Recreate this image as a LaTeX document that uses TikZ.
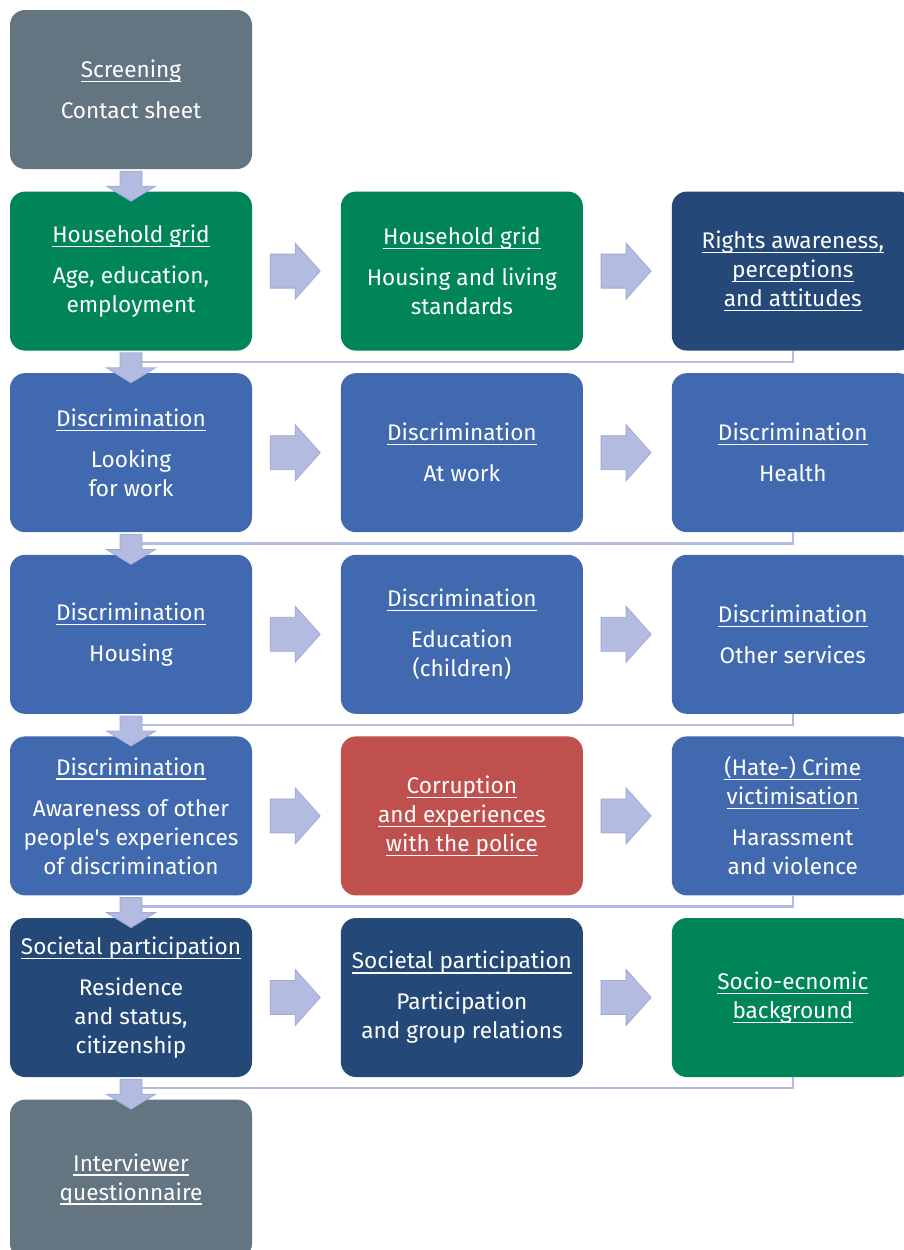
\documentclass[tikz,border=0pt]{standalone}
\usepackage{fontspec}
\setmainfont{Fira Sans}[Ligatures=TeXOff]
\usetikzlibrary{positioning}

\definecolor{stagegray}{HTML}{637581}
\definecolor{stagegreen}{HTML}{00845A}
\definecolor{stagenavy}{HTML}{244877}
\definecolor{stageblue}{HTML}{4169AF}
\definecolor{stagered}{HTML}{C0504D}
\definecolor{flowfill}{HTML}{B3BCE0}
\definecolor{flowedge}{HTML}{9FAAD7}

% underlined heading line
\newcommand{\ulbl}[1]{\leavevmode\setbox0\hbox{#1}\rlap{\rule[-4.6pt]{\wd0}{1.3pt}}\box0}

\tikzset{
  stage/.style={rectangle, rounded corners=15pt, minimum width=242pt, minimum height=159pt,
    inner sep=0pt, align=center, text=white, font=\fontsize{22.6}{29}\selectfont},
  flow/.style={fill=flowfill, draw=flowedge, line width=0.8pt},
  link/.style={draw=flowfill, line width=2.4pt},
  downflow/.pic={\filldraw[flow] (-11pt,-2pt) -- (11pt,-2pt) -- (11pt,-17pt) -- (24.5pt,-17pt)
    -- (0pt,-32pt) -- (-24.5pt,-17pt) -- (-11pt,-17pt) -- cycle;},
  rightflow/.pic={\filldraw[flow] (18pt,17pt) -- (43pt,17pt) -- (43pt,28pt) -- (68pt,0pt)
    -- (43pt,-28pt) -- (43pt,-17pt) -- (18pt,-17pt) -- cycle;}
}

\begin{document}
\begin{tikzpicture}[x=1pt,y=1pt, node distance=22.2pt and 88.5pt]
    \useasboundingbox (0,0) rectangle (903,-1250);

    % Boxes
    \node[stage, fill=stagegray] (scr) at (131,-89.5) {\ulbl{Screening}\\[12pt]Contact sheet};

    \node[stage, fill=stagegreen, below=of scr] (hh1) {\ulbl{Household grid}\\[12pt]Age, education,\\employment};
    \node[stage, fill=stagegreen, right=of hh1] (hh2) {\ulbl{Household grid}\\[12pt]Housing and living\\standards};
    \node[stage, fill=stagenavy, right=of hh2] (rights) {\ulbl{Rights awareness,}\\\ulbl{perceptions}\\\ulbl{and attitudes}};

    \node[stage, fill=stageblue, below=of hh1] (dlook) {\ulbl{Discrimination}\\[12pt]Looking\\for work};
    \node[stage, fill=stageblue, right=of dlook] (dwork) {\ulbl{Discrimination}\\[12pt]At work};
    \node[stage, fill=stageblue, right=of dwork] (dhealth) {\ulbl{Discrimination}\\[12pt]Health};

    \node[stage, fill=stageblue, below=of dlook] (dhouse) {\ulbl{Discrimination}\\[12pt]Housing};
    \node[stage, fill=stageblue, right=of dhouse] (dedu) {\ulbl{Discrimination}\\[12pt]Education\\(children)};
    \node[stage, fill=stageblue, right=of dedu] (dother) {\ulbl{Discrimination}\\[12pt]Other services};

    \node[stage, fill=stageblue, below=of dhouse] (daware) {\ulbl{Discrimination}\\[12pt]Awareness of other\\people's experiences\\of discrimination};
    \node[stage, fill=stagered, right=of daware] (police) {\ulbl{Corruption}\\\ulbl{and experiences}\\\ulbl{with the police}};
    \node[stage, fill=stageblue, right=of police] (crime) {\ulbl{(Hate-) Crime}\\\ulbl{victimisation}\\[12pt]Harassment\\and violence};

    \node[stage, fill=stagenavy, below=of daware] (sres) {\ulbl{Societal participation}\\[12pt]Residence\\and status,\\citizenship};
    \node[stage, fill=stagenavy, right=of sres] (spart) {\ulbl{Societal participation}\\[12pt]Participation\\and group relations};
    \node[stage, fill=stagegreen, right=of spart] (socio) {\ulbl{Socio-ecnomic}\\\ulbl{background}};

    \node[stage, fill=stagegray, below=of sres] (intv) {\ulbl{Interviewer}\\\ulbl{questionnaire}};

    % Row returns
    \draw[link] (rights.south) |- ([yshift=-11pt]hh1.south);
    \draw[link] (dhealth.south) |- ([yshift=-11pt]dlook.south);
    \draw[link] (dother.south) |- ([yshift=-11pt]dhouse.south);
    \draw[link] (crime.south) |- ([yshift=-11pt]daware.south);
    \draw[link] (socio.south) |- ([yshift=-11pt]sres.south);

    % Down arrows
    \pic at (scr.south) {downflow};
    \pic at (hh1.south) {downflow};
    \pic at (dlook.south) {downflow};
    \pic at (dhouse.south) {downflow};
    \pic at (daware.south) {downflow};
    \pic at (sres.south) {downflow};

    % Right arrows
    \pic at (hh1.east) {rightflow};
    \pic at (hh2.east) {rightflow};
    \pic at (dlook.east) {rightflow};
    \pic at (dwork.east) {rightflow};
    \pic at (dhouse.east) {rightflow};
    \pic at (dedu.east) {rightflow};
    \pic at (daware.east) {rightflow};
    \pic at (police.east) {rightflow};
    \pic at (sres.east) {rightflow};
    \pic at (spart.east) {rightflow};
\end{tikzpicture}
\end{document}
